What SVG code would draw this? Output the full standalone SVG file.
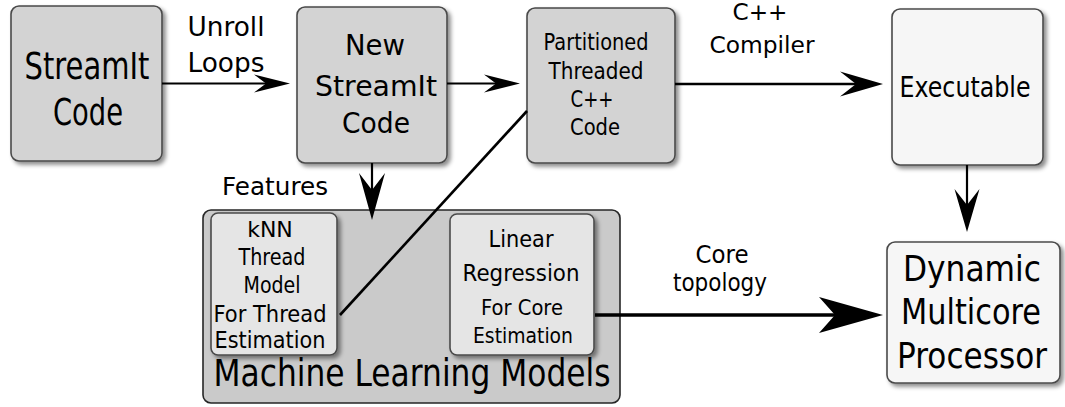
<svg xmlns="http://www.w3.org/2000/svg" width="1065" height="407" viewBox="0 0 1065 407">
  <defs>
    <filter id="shadow" x="-10%" y="-10%" width="125%" height="125%">
      <feDropShadow dx="3" dy="3" stdDeviation="2" flood-color="#000" flood-opacity="0.45"/>
    </filter>
    <!-- arrowheads: reference point is the notch, tip lies ahead of it -->
    <marker id="head-s" markerUnits="userSpaceOnUse" viewBox="-14 -10 40 20" markerWidth="40" markerHeight="20" refX="0" refY="0" orient="auto" overflow="visible">
      <path d="M24,0 L-12,-9 L0,0 L-12,9 Z" fill="#000"/>
    </marker>
    <marker id="head-m" markerUnits="userSpaceOnUse" viewBox="-18 -13 46 26" markerWidth="46" markerHeight="26" refX="0" refY="0" orient="auto" overflow="visible">
      <path d="M27,0 L-16,-12.5 L0,0 L-16,12.5 Z" fill="#000"/>
    </marker>
    <marker id="head-v" markerUnits="userSpaceOnUse" viewBox="-18 -14 50 28" markerWidth="50" markerHeight="28" refX="0" refY="0" orient="auto" overflow="visible">
      <path d="M30,0 L-17,-13 L0,0 L-17,13 Z" fill="#000"/>
    </marker>
    <marker id="head-l" markerUnits="userSpaceOnUse" viewBox="-18 -19 66 38" markerWidth="66" markerHeight="38" refX="0" refY="0" orient="auto" overflow="visible">
      <path d="M48,0 L-16,-18 L0,0 L-16,18 Z" fill="#000"/>
    </marker>
  </defs>
  <style>
    text { font-family: "DejaVu Sans", Verdana, sans-serif; fill: #000; text-anchor: middle; }
    .box { stroke: #4a4a4a; stroke-width: 1.6; filter: url(#shadow); }
    .dark { fill: #d3d3d3; }
    .light { fill: #f6f6f6; }
    .inner { fill: #e5e5e5; }
    .group { fill: #cacaca; stroke: #262626; stroke-width: 1.6; }
    .edge { fill: none; stroke: #000; }
  </style>

  <rect width="1065" height="407" fill="#fff"/>

  <!-- machine learning container -->
  <g id="ml-models">
    <rect class="group" x="203" y="210" width="417" height="193" rx="8"/>
    <text x="412" y="386" font-size="37" textLength="397" lengthAdjust="spacingAndGlyphs">Machine Learning Models</text>
  </g>

  <g id="knn">
    <rect class="box inner" x="211" y="213" width="126" height="142" rx="7"/>
    <text x="270" y="237" font-size="22">kNN</text>
    <text x="272" y="265" font-size="23" textLength="67" lengthAdjust="spacingAndGlyphs">Thread</text>
    <text x="272" y="293" font-size="23" textLength="57" lengthAdjust="spacingAndGlyphs">Model</text>
    <text x="270" y="322" font-size="23" textLength="113" lengthAdjust="spacingAndGlyphs">For Thread</text>
    <text x="270" y="348" font-size="23" textLength="111" lengthAdjust="spacingAndGlyphs">Estimation</text>
  </g>

  <g id="linear-regression">
    <rect class="box inner" x="450" y="214" width="144" height="141" rx="7"/>
    <text x="521" y="247" font-size="23" textLength="65" lengthAdjust="spacingAndGlyphs">Linear</text>
    <text x="521" y="281" font-size="23" textLength="117" lengthAdjust="spacingAndGlyphs">Regression</text>
    <text x="522" y="315" font-size="21" textLength="82" lengthAdjust="spacingAndGlyphs">For Core</text>
    <text x="523" y="343" font-size="21" textLength="100" lengthAdjust="spacingAndGlyphs">Estimation</text>
  </g>

  <g id="streamit-code">
    <rect class="box dark" x="11" y="6" width="151" height="155" rx="8"/>
    <text x="87" y="79" font-size="38" textLength="125" lengthAdjust="spacingAndGlyphs">StreamIt</text>
    <text x="88" y="125" font-size="38" textLength="70" lengthAdjust="spacingAndGlyphs">Code</text>
  </g>

  <g id="new-streamit-code">
    <rect class="box dark" x="297" y="7" width="150" height="156" rx="8"/>
    <text x="375" y="55" font-size="28" textLength="60" lengthAdjust="spacingAndGlyphs">New</text>
    <text x="376" y="96" font-size="28" textLength="122" lengthAdjust="spacingAndGlyphs">StreamIt</text>
    <text x="376" y="133" font-size="28" textLength="68" lengthAdjust="spacingAndGlyphs">Code</text>
  </g>

  <g id="partitioned-code">
    <rect class="box dark" x="527" y="8" width="148" height="155" rx="8"/>
    <text x="596" y="50" font-size="23" textLength="105" lengthAdjust="spacingAndGlyphs">Partitioned</text>
    <text x="596" y="79" font-size="23" textLength="95" lengthAdjust="spacingAndGlyphs">Threaded</text>
    <text x="592" y="107" font-size="23" textLength="43" lengthAdjust="spacingAndGlyphs">C++</text>
    <text x="595" y="135" font-size="23" textLength="50" lengthAdjust="spacingAndGlyphs">Code</text>
  </g>

  <g id="executable">
    <rect class="box light" x="892" y="9" width="151" height="156" rx="8"/>
    <text x="965" y="97" font-size="29" textLength="131" lengthAdjust="spacingAndGlyphs">Executable</text>
  </g>

  <g id="multicore-processor">
    <rect class="box light" x="887" y="242" width="173" height="141" rx="8"/>
    <text x="972" y="281" font-size="36" textLength="138" lengthAdjust="spacingAndGlyphs">Dynamic</text>
    <text x="971" y="324" font-size="36" textLength="140" lengthAdjust="spacingAndGlyphs">Multicore</text>
    <text x="972" y="368" font-size="35" textLength="150" lengthAdjust="spacingAndGlyphs">Processor</text>
  </g>

  <!-- connectors -->
  <g id="connectors">
    <line class="edge" x1="162" y1="83.5" x2="266" y2="83.5" stroke-width="2.2" marker-end="url(#head-s)"/>
    <line class="edge" x1="447" y1="83.5" x2="496" y2="83.5" stroke-width="2.2" marker-end="url(#head-s)"/>
    <line class="edge" x1="675" y1="84" x2="856" y2="84" stroke-width="2.6" marker-end="url(#head-m)"/>
    <line class="edge" x1="372" y1="163" x2="372" y2="190" stroke-width="2.2" marker-end="url(#head-v)"/>
    <line class="edge" x1="967" y1="165" x2="967" y2="205" stroke-width="2.2" marker-end="url(#head-m)"/>
    <line class="edge" x1="595" y1="315" x2="835" y2="315" stroke-width="3.6" marker-end="url(#head-l)"/>
    <line class="edge" x1="340" y1="315" x2="527" y2="111" stroke-width="2.6"/>

    <text x="226" y="36" font-size="27" textLength="77" lengthAdjust="spacingAndGlyphs">Unroll</text>
    <text x="226" y="72" font-size="27" textLength="77" lengthAdjust="spacingAndGlyphs">Loops</text>
    <text x="760" y="20" font-size="23" textLength="55" lengthAdjust="spacingAndGlyphs">C++</text>
    <text x="762" y="53" font-size="23" textLength="105" lengthAdjust="spacingAndGlyphs">Compiler</text>
    <text x="275" y="195" font-size="25" textLength="106" lengthAdjust="spacingAndGlyphs">Features</text>
    <text x="722" y="263" font-size="24" textLength="53" lengthAdjust="spacingAndGlyphs">Core</text>
    <text x="720" y="291" font-size="24" textLength="94" lengthAdjust="spacingAndGlyphs">topology</text>
  </g>
</svg>
